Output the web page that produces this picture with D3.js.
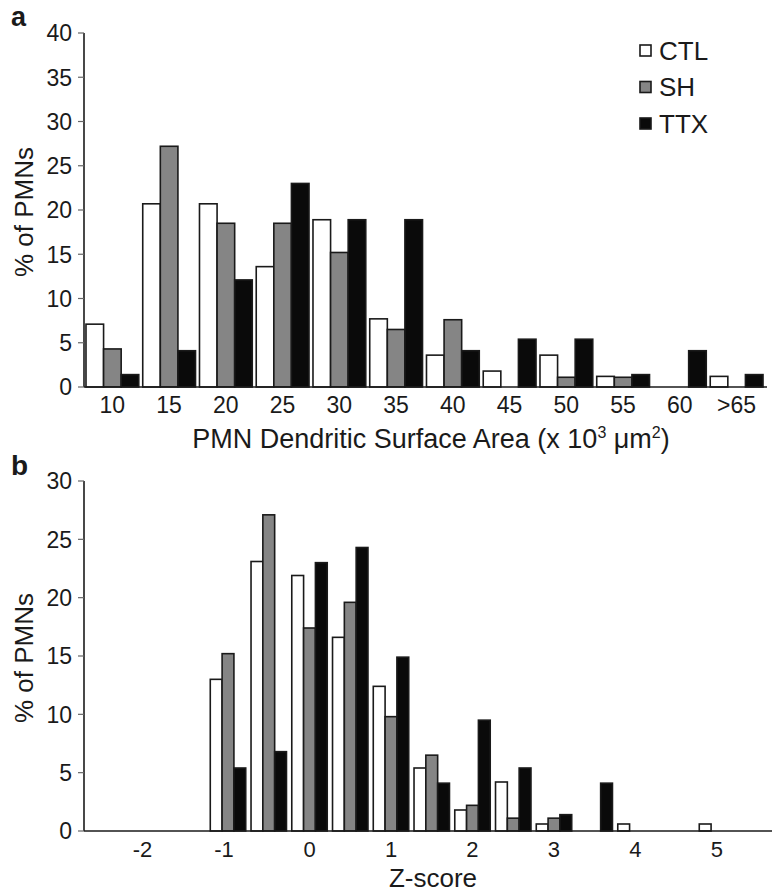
<!DOCTYPE html>
<html>
<head>
<meta charset="utf-8">
<script src="https://cdn.jsdelivr.net/npm/d3@7"></script>
<style>
  html, body { margin: 0; padding: 0; background: #fff; }
  svg { display: block; font-family: "Liberation Sans", Arial, sans-serif; }
</style>
</head>
<body>
<svg id="chart" width="772" height="894"></svg>
<script>
// ---- Panel a data ----
const aCategories = ["10", "15", "20", "25", "30", "35", "40", "45", "50", "55", "60", ">65"];
const aCTL = [7.1, 20.7, 20.7, 13.6, 18.9, 7.7, 3.6, 1.8, 3.6, 1.2, 0, 1.2];
const aSH  = [4.3, 27.2, 18.5, 18.5, 15.2, 6.5, 7.6, 0, 1.1, 1.1, 0, 0];
const aTTX = [1.4, 4.1, 12.1, 23.0, 18.9, 18.9, 4.1, 5.4, 5.4, 1.4, 4.1, 1.4];
const aYTicks = [0, 5, 10, 15, 20, 25, 30, 35, 40];

// ---- Panel b data ----
const bBins = [-1, -0.5, 0, 0.5, 1, 1.5, 2, 2.5, 3, 3.5, 4, 4.5, 5];
const bCTL = [13.0, 23.1, 21.9, 16.6, 12.4, 5.4, 1.8, 4.2, 0.6, 0, 0.6, 0, 0.6];
const bSH  = [15.2, 27.1, 17.4, 19.6, 9.8, 6.5, 2.2, 1.1, 1.1, 0, 0, 0, 0];
const bTTX = [5.4, 6.8, 23.0, 24.3, 14.9, 4.1, 9.5, 5.4, 1.4, 4.1, 0, 0, 0];
const bXTicks = [-2, -1, 0, 1, 2, 3, 4, 5];
const bYTicks = [0, 5, 10, 15, 20, 25, 30];

const seriesNames = ["CTL", "SH", "TTX"];
const fills = { CTL: "#ffffff", SH: "#858585", TTX: "#0a0a0a" };
const ink = "#1a1a1a";

const svg = d3.select("#chart");

function yAxis(g, y, ticks) {
  g.append("line").attr("x1", 84).attr("x2", 84)
    .attr("y1", y(ticks[ticks.length - 1])).attr("y2", y(0))
    .attr("stroke", ink).attr("stroke-width", 1.6);
  ticks.forEach(t => {
    g.append("line").attr("x1", 78).attr("x2", 84).attr("y1", y(t)).attr("y2", y(t))
      .attr("stroke", "#666").attr("stroke-width", 1.2);
    g.append("text").attr("x", 72).attr("y", y(t)).attr("dy", "0.36em")
      .attr("text-anchor", "end").attr("font-size", 23).attr("fill", ink).text(t);
  });
}

// ================= Panel a =================
const ga = svg.append("g");
const yA = d3.scaleLinear().domain([0, 40]).range([387, 33]);
const xA = d3.scaleBand().domain(aCategories).range([84, 765]).paddingInner(0.07).paddingOuter(0.035);
const xAin = d3.scaleBand().domain(seriesNames).range([0, xA.bandwidth()]);
const aData = { CTL: aCTL, SH: aSH, TTX: aTTX };

aCategories.forEach((c, i) => {
  seriesNames.forEach(s => {
    const v = aData[s][i];
    if (v <= 0) return;
    ga.append("rect")
      .attr("x", xA(c) + xAin(s))
      .attr("y", yA(v))
      .attr("width", xAin.bandwidth())
      .attr("height", yA(0) - yA(v))
      .attr("fill", fills[s]).attr("stroke", ink).attr("stroke-width", 1.6);
  });
});

ga.append("line").attr("x1", 84).attr("x2", 767).attr("y1", yA(0)).attr("y2", yA(0))
  .attr("stroke", ink).attr("stroke-width", 1.6);
yAxis(ga, yA, aYTicks);

aCategories.forEach(c => {
  ga.append("text").attr("x", xA(c) + xA.bandwidth() / 2).attr("y", 413)
    .attr("text-anchor", "middle").attr("font-size", 23).attr("fill", ink).text(c);
});

const tA = ga.append("text").attr("x", 431).attr("y", 448).attr("text-anchor", "middle")
  .attr("font-size", 27).attr("fill", ink);
tA.append("tspan").text("PMN Dendritic Surface Area (x 10");
tA.append("tspan").attr("font-size", 16).attr("dy", -10).text("3");
tA.append("tspan").attr("dy", 10).text(" \u03BCm");
tA.append("tspan").attr("font-size", 16).attr("dy", -10).text("2");
tA.append("tspan").attr("dy", 10).text(")");

ga.append("text").attr("transform", "translate(33,212) rotate(-90)")
  .attr("text-anchor", "middle").attr("font-size", 26).attr("fill", ink).text("% of PMNs");

ga.append("text").attr("x", 11).attr("y", 26).attr("font-size", 27).attr("font-weight", "bold")
  .attr("fill", ink).text("a");

// legend
const leg = ga.append("g");
seriesNames.forEach((s, i) => {
  const cy = 50.5 + i * 36.5;
  leg.append("rect").attr("x", 640).attr("y", cy - 5.5).attr("width", 11).attr("height", 11)
    .attr("fill", fills[s]).attr("stroke", ink).attr("stroke-width", 1.6);
  leg.append("text").attr("x", 659).attr("y", cy).attr("dy", "0.36em")
    .attr("font-size", 26).attr("fill", ink).text(s);
});

// ================= Panel b =================
const gb = svg.append("g");
const yB = d3.scaleLinear().domain([0, 30]).range([831, 481]);
const xB = d3.scaleLinear().domain([-2.767, 5.675]).range([84, 772]);
const bData = { CTL: bCTL, SH: bSH, TTX: bTTX };
const binW = 0.5;
const groupW = binW * 0.87;
const xBin = d3.scaleBand().domain(seriesNames).range([-groupW / 2, groupW / 2]);

bBins.forEach((z, i) => {
  seriesNames.forEach(s => {
    const v = bData[s][i];
    if (v <= 0) return;
    const x0 = xB(z + xBin(s));
    const x1 = xB(z + xBin(s) + xBin.bandwidth());
    gb.append("rect")
      .attr("x", x0).attr("y", yB(v))
      .attr("width", x1 - x0).attr("height", yB(0) - yB(v))
      .attr("fill", fills[s]).attr("stroke", ink).attr("stroke-width", 1.6);
  });
});

gb.append("line").attr("x1", 84).attr("x2", 772).attr("y1", yB(0)).attr("y2", yB(0))
  .attr("stroke", ink).attr("stroke-width", 1.6);
yAxis(gb, yB, bYTicks);

bXTicks.forEach(t => {
  gb.append("text").attr("x", xB(t) - (t < 0 ? 4 : 0)).attr("y", 857)
    .attr("text-anchor", "middle").attr("font-size", 22).attr("fill", ink).text(t);
});

gb.append("text").attr("x", 433).attr("y", 887).attr("text-anchor", "middle")
  .attr("font-size", 26).attr("fill", ink).text("Z-score");

gb.append("text").attr("transform", "translate(33,658) rotate(-90)")
  .attr("text-anchor", "middle").attr("font-size", 26).attr("fill", ink).text("% of PMNs");

gb.append("text").attr("x", 11).attr("y", 475).attr("font-size", 28).attr("font-weight", "bold")
  .attr("fill", ink).text("b");
</script>
</body>
</html>
